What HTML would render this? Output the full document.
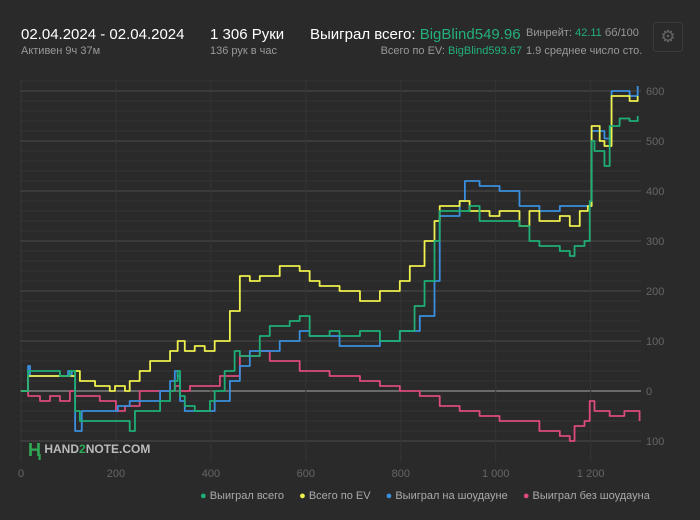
<!DOCTYPE html>
<html><head><meta charset="utf-8"><style>
body{margin:0;width:700px;height:520px;background:#2a2a2a;font-family:"Liberation Sans",sans-serif;overflow:hidden;position:relative;color:#ddd}
.t{position:absolute;white-space:nowrap}
.g{color:#23b07a}
.s{font-size:11px;color:#999}
</style></head><body>
<div class="t" style="left:21px;top:26px;font-size:15px;color:#fff">02.04.2024 - 02.04.2024</div>
<div class="t s" style="left:21px;top:45px">Активен 9ч 37м</div>
<div class="t" style="left:210px;top:26px;font-size:15px;color:#fff">1 306 Руки</div>
<div class="t s" style="left:210px;top:45px">136 рук в час</div>
<div class="t" style="left:310px;top:26px;font-size:15px;color:#fff">Выиграл всего: <span class="g">BigBlind549.96</span></div>
<div class="t s" style="right:178px;top:45px">Всего по EV: <span class="g">BigBlind593.67</span></div>
<div class="t s" style="left:526px;top:27px">Винрейт: <span class="g">42.11</span> бб/100</div>
<div class="t s" style="left:526px;top:45px">1.9 среднее число сто.</div>
<div class="t" style="left:653px;top:22px;width:28px;height:28px;border:1px solid #3a3a3a;border-radius:3px;color:#666;font-size:17px;text-align:center;line-height:28px">⚙</div>
<svg id="c" width="700" height="520" style="position:absolute;left:0;top:0"></svg>
<script>
const xTicks=[0,200,400,600,800,1000,1200];
const xTickLabels=["0","200","400","600","800","1 000","1 200"];
const yTicks=[-100,0,100,200,300,400,500,600];
const yTickLabels=["100","0","100","200","300","400","500","600"];
const greenH=[0,15,82,103,114,124,229,240,293,314,324,330,335,345,366,398,408,429,450,461,503,524,566,587,608,650,671,714,756,798,829,850,871,882,924,945,966,1008,1050,1071,1092,1135,1156,1166,1187,1198,1202,1208,1229,1240,1261,1282,1299];
const greenV=[0,40,30,40,-40,-60,-80,-40,-20,0,20,40,-10,-30,-40,-20,0,40,80,70,110,130,140,150,110,120,110,120,100,120,170,220,300,360,360,370,340,340,330,300,290,280,270,290,300,380,500,480,450,530,545,540,550];
const yellowH=[0,15,82,114,124,156,187,198,219,229,250,272,293,314,330,345,366,387,408,440,461,482,503,545,587,608,629,671,714,756,798,819,850,871,882,924,945,987,1008,1050,1071,1092,1135,1156,1177,1194,1202,1219,1229,1244,1282,1299];
const yellowV=[0,30,30,40,20,10,0,10,0,20,40,60,60,80,100,80,90,80,100,160,230,220,230,250,240,220,210,200,180,200,220,250,300,340,370,380,360,350,360,330,360,340,350,330,360,370,530,500,490,590,580,590];
const blueH=[0,15,19,82,99,107,114,128,198,204,229,293,314,324,330,335,345,398,408,440,461,482,503,545,587,608,671,756,798,840,871,882,924,935,966,1008,1050,1092,1135,1198,1202,1229,1244,1282,1299];
const blueV=[0,50,30,30,40,30,-80,-40,-40,-30,-20,0,20,40,30,-20,-40,-40,-20,20,50,80,80,100,120,110,90,100,120,150,220,350,380,420,410,400,370,360,370,370,520,505,600,590,610];
const pinkH=[0,15,40,61,82,103,114,166,200,219,250,293,324,335,356,377,419,461,503,524,587,650,714,756,798,840,882,924,966,1008,1050,1092,1135,1156,1166,1187,1198,1208,1240,1271,1303];
const pinkV=[0,-10,-20,-10,-20,0,-10,-20,-40,-30,0,0,10,0,10,10,30,70,80,60,40,30,20,10,0,-10,-30,-40,-50,-60,-60,-80,-90,-100,-70,-60,-20,-40,-50,-40,-60];
const X0=21,X1=641,xs=h=>X0+h*(X1-X0)/1306, ys=v=>391-v*0.5;
const svg=document.getElementById('c'),NS='http://www.w3.org/2000/svg';
function el(t,a,p){const e=document.createElementNS(NS,t);for(const k in a)e.setAttribute(k,a[k]);(p||svg).appendChild(e);return e;}
for(let v=-100;v<=620;v+=20){const l=el('line',{x1:20,x2:641,y1:ys(v),y2:ys(v),stroke:v===0?'#aaa':(v%100===0?'#4c4c4c':'#343434'),'stroke-width':1});

}
xTicks.forEach((t,i)=>{const l=el('line',{x1:xs(t),x2:xs(t),y1:80,y2:462,stroke:'#353535'});


const tx=el('text',{x:xs(t),y:477,fill:'#666','font-size':11,'text-anchor':'middle','font-family':'Liberation Sans'});tx.textContent=xTickLabels[i];

});
yTicks.forEach((t,i)=>{const tx=el('text',{x:646,y:ys(t)+4,fill:'#666','font-size':11,'font-family':'Liberation Sans'});tx.textContent=yTickLabels[i];

});
function series(H,V,col,name){let d='M'+xs(H[0])+','+ys(V[0]);for(let i=1;i<H.length;i++){d+='L'+xs(H[i])+','+ys(V[i-1])+'L'+xs(H[i])+','+ys(V[i]);}
const p=el('path',{d:d,fill:'none',stroke:col,'stroke-width':1.8,'stroke-linejoin':'round'});

}
series(pinkH,pinkV,'#dc4a7e','line-won-without-showdown');
series(blueH,blueV,'#3a8fdf','line-won-at-showdown');
series(yellowH,yellowV,'#eef04c','line-ev-total');
series(greenH,greenV,'#1fae76','line-won-total');
</script>
<div class="t" style="left:28px;top:440px;font-size:12px;font-weight:bold;color:#bbb"><span style="color:#2eaa55;font-size:18px;vertical-align:-3px">Ⱨ</span> HAND<span style="color:#2eaa55">2</span>NOTE.COM</div>
<div class="t" style="left:200px;top:490px;font-size:11px;color:#aaa">
<span><span style="color:#1fae76">●</span> Выиграл всего</span>
<span style="margin-left:12px"><span style="color:#eef04c">●</span> Всего по EV</span>
<span style="margin-left:12px"><span style="color:#3a8fdf">●</span> Выиграл на шоудауне</span>
<span style="margin-left:12px"><span style="color:#dc4a7e">●</span> Выиграл без шоудауна</span>
</div>
</body></html>
